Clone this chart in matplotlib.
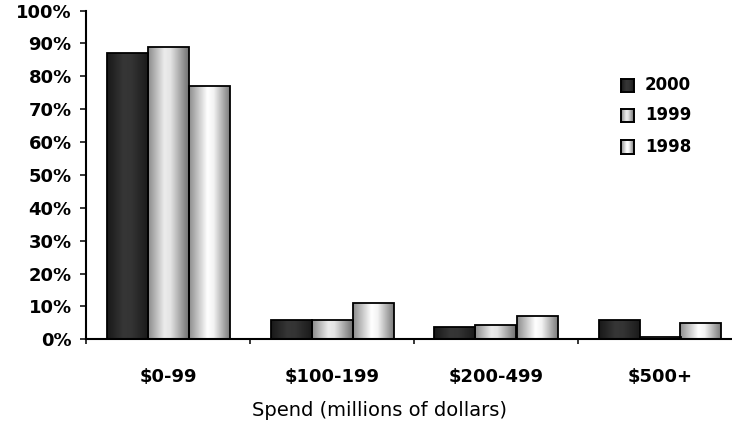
import numpy as np
import matplotlib.pyplot as plt
from matplotlib.colors import LinearSegmentedColormap
from matplotlib.ticker import FuncFormatter, MultipleLocator

categories = ["$0-99", "$100-199", "$200-499", "$500+"]
years = ["2000", "1999", "1998"]
share_2000 = [87, 6, 3.7, 6]
share_1999 = [89, 6, 4.4, 0.7]
share_1998 = [77, 11, 7, 5]

# horizontal "cylinder" shading for each series
shades = {
    "2000": [(0.0, "#181818"), (0.4, "#363636"), (0.6, "#343434"), (1.0, "#1a1a1a")],
    "1999": [(0.0, "#8a8a8a"), (0.4, "#ececec"), (0.55, "#e4e4e4"), (1.0, "#707070")],
    "1998": [(0.0, "#8c8c8c"), (0.45, "#ffffff"), (0.6, "#f4f4f4"), (1.0, "#7a7a7a")],
}
cmaps = {k: LinearSegmentedColormap.from_list(k, v) for k, v in shades.items()}
grad = np.linspace(0, 1, 256).reshape(1, -1)

W, H = 732, 433
fig = plt.figure(figsize=(W / 100, H / 100), dpi=100)
ax = fig.add_axes([86 / W, (H - 339.3) / H, 656 / W, 328.8 / H])

x = np.arange(len(categories))
width = 0.25
series = [share_2000, share_1999, share_1998]
for i, (year, vals) in enumerate(zip(years, series)):
    bars = ax.bar(x + (i - 1) * width, vals, width, facecolor="none",
                  edgecolor="black", linewidth=1.3, zorder=3)
    for rect in bars:
        x0, w, h = rect.get_x(), rect.get_width(), rect.get_height()
        im = ax.imshow(grad, cmap=cmaps[year], extent=(x0, x0 + w, 0, h),
                       aspect="auto", interpolation="bilinear", zorder=2)
        im.set_clip_path(rect)

ax.set_xlim(-0.5, len(categories) - 0.5)
ax.set_ylim(0, 100)
ax.set_aspect("auto")

for s in ["top", "right"]:
    ax.spines[s].set_visible(False)
for s in ["left", "bottom"]:
    ax.spines[s].set_linewidth(1.5)
    ax.spines[s].set_zorder(4)

ax.yaxis.set_major_locator(MultipleLocator(10))
ax.yaxis.set_major_formatter(FuncFormatter(lambda v, p: f"{v:.0f}%"))
ax.tick_params(axis="y", direction="out", length=4.3, width=1.1, pad=6)
for lab in ax.get_yticklabels():
    lab.set_fontweight("bold")

ax.set_xticks(x)
ax.set_xticklabels(categories, fontweight="bold")
ax.set_xticks(np.arange(len(categories) + 1) - 0.5, minor=True)
ax.tick_params(axis="x", which="major", length=0, pad=21)
ax.tick_params(axis="x", which="minor", direction="out", length=3.6, width=1.1)

for lab in ax.get_xticklabels() + ax.get_yticklabels():
    lab.set_fontsize(13)
    lab.set_fontfamily("DejaVu Sans")

fig.text(379 / W, 1 - 410 / H, "Spend (millions of dollars)",
         ha="center", va="center", fontsize=14, family="DejaVu Sans")

# legend drawn by hand: shaded swatch plus year label
for year, yc in zip(years, [85, 115, 147]):
    sw = fig.add_axes([621 / W, 1 - (yc + 6.5) / H, 13 / W, 13 / H])
    sw.imshow(grad, cmap=cmaps[year], aspect="auto", interpolation="bilinear")
    sw.set_xticks([])
    sw.set_yticks([])
    for s in sw.spines.values():
        s.set_linewidth(1.4)
    fig.text(645 / W, 1 - yc / H, year, ha="left", va="center",
             fontsize=12, fontweight="bold", family="DejaVu Sans")

fig.savefig("out.png", dpi=100)
